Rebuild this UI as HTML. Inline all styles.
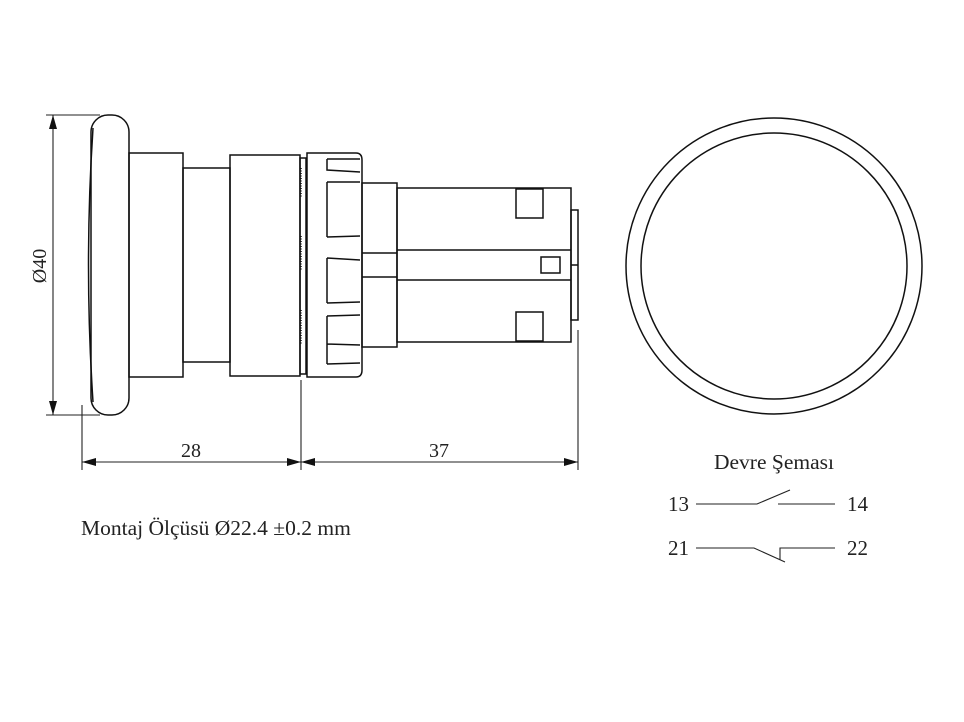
<!DOCTYPE html>
<html><head><meta charset="utf-8"><style>
html,body{margin:0;padding:0;background:#fff;}
svg{display:block;}
text{font-family:"Liberation Serif",serif;fill:#222;}
</style></head><body>
<svg width="964" height="722" viewBox="0 0 964 722" xmlns="http://www.w3.org/2000/svg">
<g fill="none" stroke="#111" stroke-width="1.5">
 <rect x="91" y="115" width="38" height="300" rx="17" ry="17"/>
 <path d="M93 128 Q84 265 93 402"/>
 <rect x="129" y="153" width="54" height="224"/>
 <rect x="183" y="168" width="47" height="194"/>
 <rect x="230" y="155" width="70" height="221"/>
 <rect x="300" y="158" width="6" height="216"/>
 <path d="M301 168 v30 M301 236 v34 M301 310 v34" stroke-dasharray="1 1.5"/>
 <path d="M307 153 H356 Q362 153 362 160 V370 Q362 377 356 377 H307 Z"/>
 <path d="M327 159 H360 M327 159 V170 L360 172 M327 182 H360 M327 182 V237 M327 237 L360 236 M327 258 L360 260 M327 258 V303 M327 303 L360 302 M327 316 L360 315 M327 316 V364 M327 364 L360 363 M327 344 L360 345"/>
 <rect x="362" y="183" width="35" height="164"/>
 <path d="M362 253 H397 M362 277 H397"/>
 <rect x="397" y="188" width="174" height="154"/>
 <path d="M397 250 H571 M397 280 H571"/>
 <rect x="516" y="189" width="27" height="29"/>
 <rect x="516" y="312" width="27" height="29"/>
 <rect x="541" y="257" width="19" height="16"/>
 <rect x="571" y="210" width="7" height="110"/>
 <path d="M571 265 H578"/>
 <circle cx="774" cy="266" r="148"/>
 <circle cx="774" cy="266" r="133"/>
</g>
<g stroke="#222" stroke-width="1.1" fill="none">
 <path d="M46 115 H100 M46 415 H100"/>
 <path d="M53 115 V415"/>
 <path d="M82 405 V470 M301 380 V470 M578 330 V470"/>
 <path d="M82 462 H578"/>
 <path d="M696 504 H757 L790 490 M778 504 H835"/>
 <path d="M696 548 H754 L785 562 M780 560 V548 H835"/>
</g>
<g fill="#111">
 <path d="M53 115 l-4 14 h8 z M53 415 l-4 -14 h8 z"/>
 <path d="M82 462 l14 -4 v8 z M301 462 l-14 -4 v8 z M301 462 l14 -4 v8 z M578 462 l-14 -4 v8 z"/>
</g>
<text x="46" y="266" font-size="20" text-anchor="middle" transform="rotate(-90 46 266)">Ø40</text>
<text x="191" y="457" font-size="20" text-anchor="middle">28</text>
<text x="439" y="457" font-size="20" text-anchor="middle">37</text>
<text x="81" y="535" font-size="21.5">Montaj Ölçüsü Ø22.4 ±0.2 mm</text>
<text x="774" y="469" font-size="21.5" text-anchor="middle">Devre Şeması</text>
<text x="668" y="511" font-size="21">13</text>
<text x="847" y="511" font-size="21">14</text>
<text x="668" y="555" font-size="21">21</text>
<text x="847" y="555" font-size="21">22</text>
</svg>
</body></html>
